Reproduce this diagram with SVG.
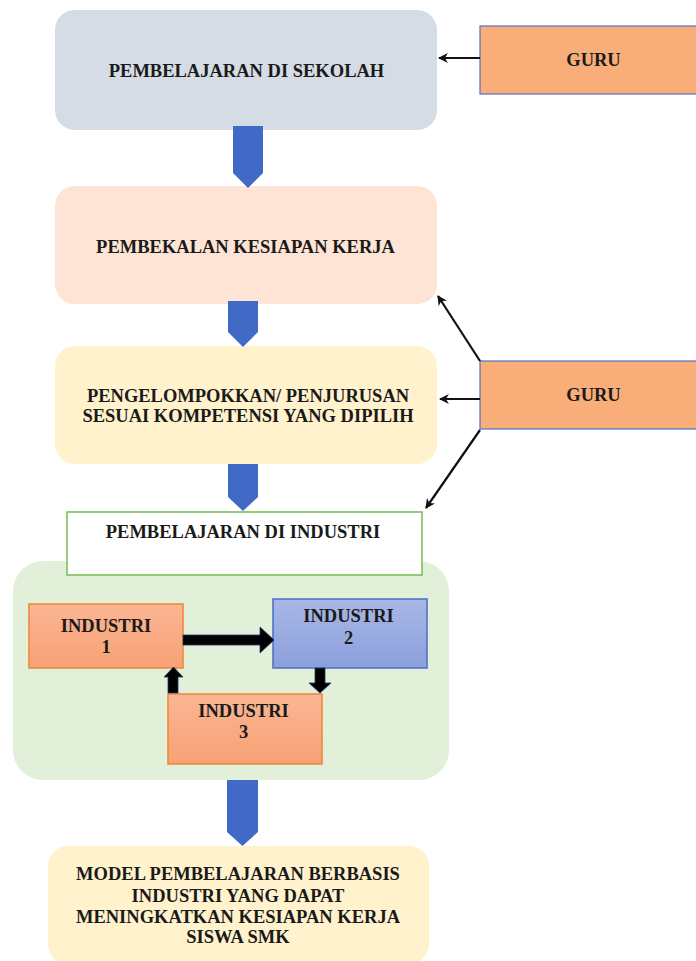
<svg xmlns="http://www.w3.org/2000/svg" width="696" height="961" viewBox="0 0 696 961">
<defs>
<style>
text{font-family:"Liberation Serif","Times New Roman",serif;font-weight:bold;font-size:18.5px;fill:#1a1a1a;text-anchor:middle}
.chev{fill:#4169c6}
.guru{fill:#f9ad78;stroke:#4f72c0;stroke-width:1.2}
.thin{stroke:#111;stroke-width:2.2;fill:none;marker-end:url(#ah)}
.blk{fill:#000;stroke:#1f3a6e;stroke-width:0.8}
.ind-o{fill:url(#go);stroke:#f08a3c;stroke-width:1.6}
.ind-b{fill:url(#gb);stroke:#4f74c9;stroke-width:1.6}
</style>
<marker id="ah" viewBox="0 0 10 10" refX="9" refY="5" markerWidth="4.5" markerHeight="4.5" orient="auto-start-reverse" markerUnits="strokeWidth">
<path d="M0,0 L10,5 L0,10 L3,5 Z" fill="#111"/>
</marker>
<linearGradient id="go" x1="0" y1="0" x2="0" y2="1">
<stop offset="0" stop-color="#fbb594"/>
<stop offset="1" stop-color="#f6a274"/>
</linearGradient>
<linearGradient id="gb" x1="0" y1="0" x2="0" y2="1">
<stop offset="0" stop-color="#a9b7e5"/>
<stop offset="1" stop-color="#8a9fdc"/>
</linearGradient>
</defs>
<rect width="696" height="961" fill="#ffffff"/>

<g id="sekolah">
<rect x="55" y="10" width="382" height="120" rx="20" fill="#d6dce5"/>
<text x="246.5" y="77">PEMBELAJARAN DI SEKOLAH</text>
</g>

<g id="guru1">
<rect class="guru" x="480" y="26" width="222" height="68"/>
<text x="593.5" y="66">GURU</text>
</g>

<g id="pembekalan">
<rect x="55" y="186" width="382" height="118" rx="20" fill="#fde4d5"/>
<text x="245.5" y="253">PEMBEKALAN KESIAPAN KERJA</text>
</g>

<g id="pengelompokkan">
<rect x="55" y="346" width="382" height="118" rx="20" fill="#fff2cc"/>
<text x="248" y="402">PENGELOMPOKKAN/  PENJURUSAN</text>
<text x="248" y="422">SESUAI KOMPETENSI YANG DIPILIH</text>
</g>

<g id="guru2">
<rect class="guru" x="480" y="361" width="222" height="68"/>
<text x="593.5" y="401">GURU</text>
</g>

<g id="industri-container">
<rect x="13" y="561" width="436" height="219" rx="30" fill="#e2f0d9"/>
</g>

<g id="pembelajaran-industri">
<rect x="67" y="512" width="355" height="63" fill="#ffffff" stroke="#7cc05a" stroke-width="1.6"/>
<text x="243" y="538">PEMBELAJARAN DI INDUSTRI</text>
</g>

<g id="industri1">
<rect class="ind-o" x="29" y="604" width="154" height="64"/>
<text x="106" y="632">INDUSTRI</text>
<text x="106" y="653">1</text>
</g>

<g id="industri2">
<rect class="ind-b" x="273" y="599" width="154" height="69"/>
<text x="348.5" y="622">INDUSTRI</text>
<text x="348.5" y="644">2</text>
</g>

<g id="industri3">
<rect class="ind-o" x="168" y="694" width="154" height="70"/>
<text x="243.5" y="717">INDUSTRI</text>
<text x="243.5" y="738">3</text>
</g>

<g id="model">
<rect x="48" y="846" width="381" height="118" rx="20" fill="#fff2cc"/>
<text x="238" y="880">MODEL PEMBELAJARAN BERBASIS</text>
<text x="238" y="902">INDUSTRI YANG DAPAT</text>
<text x="238" y="923">MENINGKATKAN KESIAPAN KERJA</text>
<text x="238" y="943">SISWA SMK</text>
</g>

<g id="connectors">
<polygon class="chev" points="233,126 263,126 263,173 248,188 233,173"/>
<polygon class="chev" points="228,301 258,301 258,332 243,347 228,332"/>
<polygon class="chev" points="228,464 258,464 258,497 243,511 228,497"/>
<polygon class="chev" points="227,780 258,780 258,832 242.5,846 227,832"/>

<line class="thin" x1="480" y1="58" x2="439" y2="58"/>
<line class="thin" x1="480" y1="361" x2="438" y2="296"/>
<line class="thin" x1="480" y1="399" x2="440" y2="399"/>
<line class="thin" x1="480" y1="430" x2="426" y2="508"/>

<polygon class="blk" points="183,635 260,635 260,627 274,640 260,653 260,645 183,645"/>
<polygon class="blk" points="315,668 325,668 325,683 331,683 320,693 309,683 315,683"/>
<polygon class="blk" points="168,693 178,693 178,677 183,677 173.5,667 164,677 168,677"/>
</g>
</svg>
